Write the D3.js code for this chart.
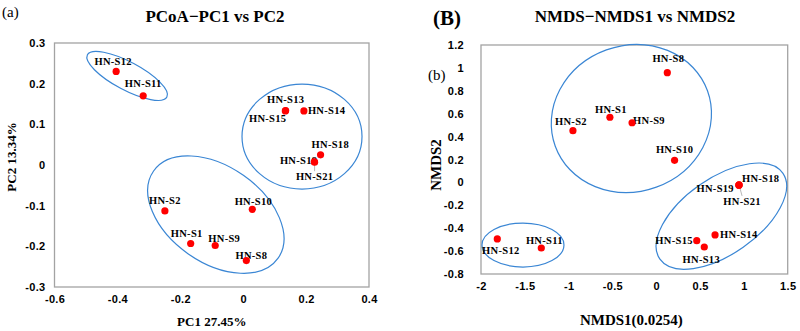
<!DOCTYPE html>
<html>
<head>
<meta charset="utf-8">
<script src="https://cdn.jsdelivr.net/npm/d3@7"></script>
<style>
  body { margin: 0; background: #fff; }
  svg { font-family: "Liberation Serif", "Times New Roman", serif; }
  .tick-label { font-size: 11px; font-weight: bold; fill: #000; letter-spacing: 0.3px; }
  .pt-label { font-size: 10.5px; font-weight: bold; fill: #000; letter-spacing: 0.3px; }
</style>
</head>
<body>
<div id="content"></div>
<script>
// ---- data ----
var pcoaNames = ["HN-S12", "HN-S11", "HN-S13", "HN-S15", "HN-S14", "HN-S18", "HN-S19", "HN-S21", "HN-S2", "HN-S10", "HN-S1", "HN-S9", "HN-S8"];
var pcoaPC1 = [-0.404, -0.318, 0.135, 0.134, 0.193, 0.246, 0.226, 0.227, -0.249, 0.029, -0.167, -0.089, 0.010];
var pcoaPC2 = [0.230, 0.170, 0.134, 0.133, 0.133, 0.025, 0.008, 0.007, -0.113, -0.109, -0.193, -0.198, -0.235];
var pcoaXTicks = [-0.6, -0.4, -0.2, 0, 0.2, 0.4];
var pcoaYTicks = [-0.3, -0.2, -0.1, 0, 0.1, 0.2, 0.3];

var nmdsNames = ["HN-S8", "HN-S1", "HN-S9", "HN-S2", "HN-S10", "HN-S18", "HN-S19", "HN-S21", "HN-S14", "HN-S15", "HN-S13", "HN-S12", "HN-S11"];
var nmds1 = [0.126, -0.529, -0.276, -0.951, 0.209, 0.944, 0.943, 0.945, 0.671, 0.462, 0.548, -1.814, -1.312];
var nmds2 = [0.958, 0.569, 0.521, 0.452, 0.193, -0.023, -0.024, -0.022, -0.459, -0.509, -0.564, -0.494, -0.573];
var nmdsXTicks = [-2, -1.5, -1, -0.5, 0, 0.5, 1, 1.5];
var nmdsYTicks = [-0.8, -0.6, -0.4, -0.2, 0, 0.2, 0.4, 0.6, 0.8, 1, 1.2];

// group ellipses: centre in data units
var pcoaGroupX = [-0.369, 0.187, -0.087];
var pcoaGroupY = [0.219, 0.070, -0.122];
var nmdsGroupX = [-0.284, 0.743, -1.521];
var nmdsGroupY = [0.558, -0.295, -0.547];

// ---- layout / styling ----
var W = 800, H = 331;
var pcoaEllipse = [{ rx: 45, ry: 14, a: 28 }, { rx: 60, ry: 52.5, a: 0 }, { rx: 76, ry: 48, a: 35 }];
var nmdsEllipse = [{ rx: 81, ry: 73, a: -20 }, { rx: 75, ry: 38, a: -35 }, { rx: 41, ry: 22, a: 0 }];

// label placement: [dx, dy, anchor]
var pcoaLabelPos = {
    "HN-S12": [-3, -6, "middle"], "HN-S11": [0, -8.5, "middle"], "HN-S13": [0, -8, "middle"],
    "HN-S15": [1, 11, "end"], "HN-S14": [4, 3, "start"], "HN-S18": [-9, -7, "start"],
    "HN-S19": [3, 2, "end"], "HN-S21": [0, 18, "middle"], "HN-S2": [0, -7, "middle"],
    "HN-S10": [1, -4.5, "middle"], "HN-S1": [-4, -6, "middle"], "HN-S9": [9, -3.5, "middle"],
    "HN-S8": [5, -1.5, "middle"]
};
var nmdsLabelPos = {
    "HN-S8": [1, -11, "middle"], "HN-S1": [1, -4, "middle"], "HN-S9": [1, 1, "start"],
    "HN-S2": [-2, -6, "middle"], "HN-S10": [0, -7, "middle"], "HN-S18": [3, -3, "start"],
    "HN-S19": [-5, 7, "end"], "HN-S21": [3, 20, "middle"], "HN-S14": [5, 3, "start"],
    "HN-S15": [-4, 3, "end"], "HN-S13": [-3, 16, "middle"], "HN-S12": [3.5, 15, "middle"],
    "HN-S11": [3, -4.5, "middle"]
};

var svg = d3.select("#content").append("svg")
    .attr("width", W)
    .attr("height", H);

function fmt(d) {
    return String(+d.toFixed(1));
}

function drawPanel(opt) {
    var x = d3.scaleLinear().domain(opt.xDomain).range([opt.left, opt.right]),
        y = d3.scaleLinear().domain(opt.yDomain).range([opt.bottom, opt.top]);

    var g = svg.append("g");

    // plot frame
    g.append("rect")
        .attr("x", opt.left)
        .attr("y", opt.top)
        .attr("width", opt.right - opt.left)
        .attr("height", opt.bottom - opt.top)
        .attr("fill", "none")
        .attr("stroke", "#a3a3a3")
        .attr("stroke-width", 1.3);

    var xAxis = d3.axisBottom(x).tickValues(opt.xTicks).tickFormat(fmt).tickSize(0).tickPadding(opt.xPad);
    var yAxis = d3.axisLeft(y).tickValues(opt.yTicks).tickFormat(fmt).tickSize(0).tickPadding(opt.yPad);

    var gx = g.append("g").attr("transform", "translate(0," + opt.bottom + ")").call(xAxis);
    var gy = g.append("g").attr("transform", "translate(" + opt.left + ",0)").call(yAxis);
    [gx, gy].forEach(function(a) {
        a.select(".domain").remove();
        a.selectAll("text").attr("class", "tick-label").attr("font-family", null).attr("font-size", null);
    });
    gx.selectAll("text").attr("dy", null).attr("y", opt.xPad + 4);

    // group ellipses
    g.selectAll(".grp")
        .data(opt.groups)
        .enter()
        .append("ellipse")
        .attr("class", "grp")
        .attr("cx", 0).attr("cy", 0)
        .attr("rx", function(d, i) { return opt.ellipse[i].rx; })
        .attr("ry", function(d, i) { return opt.ellipse[i].ry; })
        .attr("transform", function(d, i) {
            return "translate(" + x(d[0]) + "," + y(d[1]) + ") rotate(" + opt.ellipse[i].a + ")"; })
        .attr("fill", "none")
        .attr("stroke", "#3a86d4")
        .attr("stroke-width", 1.2);

    var pts = opt.names.map(function(n, i) {
        return { name: n, x: opt.xs[i], y: opt.ys[i] };
    });

    // leader line to the hidden label
    pts.filter(function(d) { return d.name === "HN-S21"; }).forEach(function(d) {
        var p = opt.labelPos[d.name];
        g.append("line")
            .attr("x1", x(d.x)).attr("y1", y(d.y))
            .attr("x2", x(d.x) + p[0]).attr("y2", y(d.y) + p[1] - 9)
            .attr("stroke", "#999")
            .attr("stroke-width", 0.7);
    });

    g.selectAll(".pt-label")
        .data(pts)
        .enter()
        .append("text")
        .attr("class", "pt-label")
        .attr("x", function(d) { return x(d.x) + opt.labelPos[d.name][0]; })
        .attr("y", function(d) { return y(d.y) + opt.labelPos[d.name][1]; })
        .attr("text-anchor", function(d) { return opt.labelPos[d.name][2]; })
        .text(function(d) { return d.name; });

    g.selectAll(".dot")
        .data(pts)
        .enter()
        .append("circle")
        .attr("class", "dot")
        .attr("cx", function(d) { return x(d.x); })
        .attr("cy", function(d) { return y(d.y); })
        .attr("r", 3.6)
        .attr("fill", "#ff0000");

    // axis titles
    g.append("text")
        .attr("x", (opt.left + opt.right) / 2 + opt.xLabelShift)
        .attr("y", opt.xLabelY)
        .attr("text-anchor", "middle")
        .attr("font-weight", "bold")
        .attr("font-size", opt.labelSize)
        .text(opt.xLabel);

    g.append("text")
        .attr("transform", "translate(" + opt.yLabelX + "," + opt.yLabelY + ") rotate(-90)")
        .attr("text-anchor", "middle")
        .attr("font-weight", "bold")
        .attr("font-size", opt.labelSize)
        .text(opt.yLabel);

    g.append("text")
        .attr("x", opt.titleX)
        .attr("y", 22)
        .attr("text-anchor", "middle")
        .attr("font-weight", "bold")
        .attr("font-size", 17)
        .text(opt.title);
}

drawPanel({
    left: 54.5, right: 369, top: 43, bottom: 287,
    xDomain: [-0.6, 0.4], yDomain: [-0.3, 0.3],
    xTicks: pcoaXTicks, yTicks: pcoaYTicks, xPad: 12, yPad: 9,
    names: pcoaNames, xs: pcoaPC1, ys: pcoaPC2,
    groups: d3.zip(pcoaGroupX, pcoaGroupY), ellipse: pcoaEllipse, labelPos: pcoaLabelPos,
    xLabel: "PC1  27.45%", xLabelY: 326, xLabelShift: 0,
    yLabel: "PC2  13.34%", yLabelX: 16, yLabelY: 157, labelSize: 13,
    title: "PCoA\u2212PC1 vs PC2", titleX: 215
});

drawPanel({
    left: 481, right: 787.7, top: 45, bottom: 274,
    xDomain: [-2, 1.5], yDomain: [-0.8, 1.2],
    xTicks: nmdsXTicks, yTicks: nmdsYTicks, xPad: 12, yPad: 17,
    names: nmdsNames, xs: nmds1, ys: nmds2,
    groups: d3.zip(nmdsGroupX, nmdsGroupY), ellipse: nmdsEllipse, labelPos: nmdsLabelPos,
    xLabel: "NMDS1(0.0254)", xLabelY: 325, xLabelShift: -3,
    yLabel: "NMDS2", yLabelX: 441, yLabelY: 165, labelSize: 15,
    title: "NMDS\u2212NMDS1 vs NMDS2", titleX: 635
});

// panel tags
svg.append("text").attr("x", 2).attr("y", 17).attr("font-size", 15).text("(a)");
svg.append("text").attr("x", 433).attr("y", 25).attr("font-size", 21).attr("font-weight", "bold").text("(B)");
svg.append("text").attr("x", 428).attr("y", 80).attr("font-size", 15).text("(b)");
</script>
</body>
</html>
